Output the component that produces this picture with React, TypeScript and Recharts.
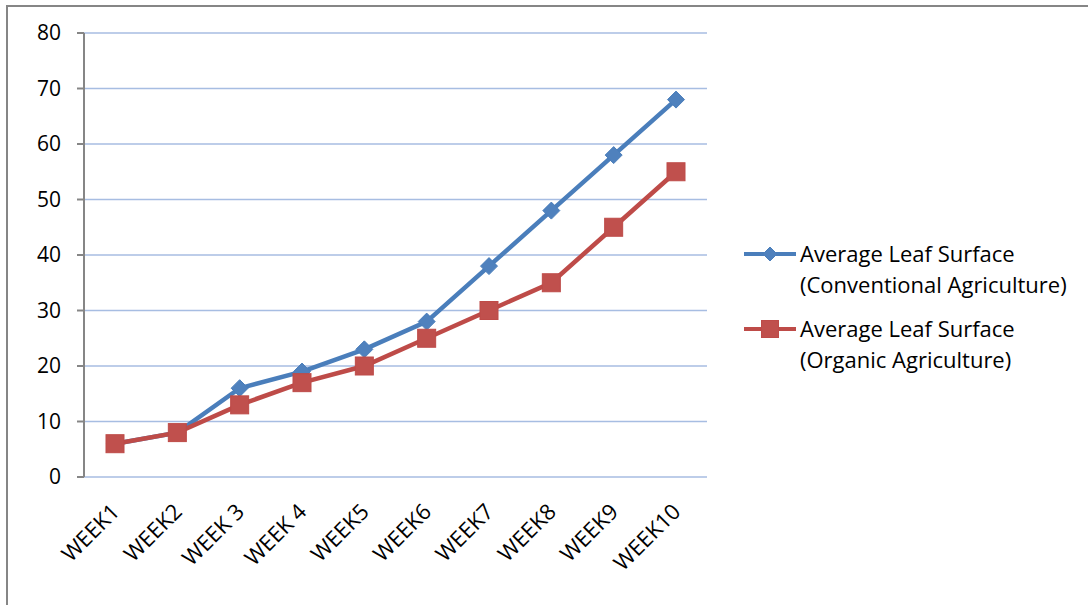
import React from "react";
import { LineChart, Line, XAxis, YAxis, CartesianGrid } from "recharts";

const WEEKS = ["WEEK1", "WEEK2", "WEEK 3", "WEEK 4", "WEEK5", "WEEK6", "WEEK7", "WEEK8", "WEEK9", "WEEK10"];
const CONVENTIONAL = [6, 8, 16, 19, 23, 28, 38, 48, 58, 68];
const ORGANIC = [6, 8, 13, 17, 20, 25, 30, 35, 45, 55];
const Y_TICKS = [0, 10, 20, 30, 40, 50, 60, 70, 80];
const BOUNDARY_TICKS = [0, 1, 2, 3, 4, 5, 6, 7, 8, 9, 10];

const SERIES = [
  { key: "conventional", name: ["Average Leaf Surface", "(Conventional Agriculture)"], color: "#4A7EBB", fill: "#4F81BD", shape: "diamond" },
  { key: "organic", name: ["Average Leaf Surface", "(Organic Agriculture)"], color: "#BE4B48", fill: "#C0504D", shape: "square" },
];

const data = WEEKS.map((week, i) => ({
  week,
  conventional: CONVENTIONAL[i],
  organic: ORGANIC[i],
}));

const FONT = "'Open Sans', 'Noto Sans', sans-serif";
const AXIS_GRAY = "#868686";

function Diamond(props: any) {
  const { cx, cy, index } = props;
  if (cx == null || cy == null) return null;
  const r = 8.5;
  return (
    <path
      key={`d-${index}`}
      d={`M${cx},${cy - r}L${cx + r},${cy}L${cx},${cy + r}L${cx - r},${cy}Z`}
      fill="#4F81BD"
      stroke="#4A7EBB"
      strokeWidth={1}
    />
  );
}

function Square(props: any) {
  const { cx, cy, index } = props;
  if (cx == null || cy == null) return null;
  const s = 9;
  return (
    <rect
      key={`s-${index}`}
      x={cx - s}
      y={cy - s}
      width={s * 2}
      height={s * 2}
      fill="#C0504D"
      stroke="#BE4B48"
      strokeWidth={1}
    />
  );
}

function WeekTick(props: any) {
  const { x, y, payload } = props;
  return (
    <g transform={`translate(${x + 6},${y + 36})`}>
      <text transform="rotate(-45)" textAnchor="end" fontSize={22} fontFamily={FONT} fill="#000">
        {payload.value}
      </text>
    </g>
  );
}

function LegendIcon({ shape, color, fill }: { shape: string; color: string; fill: string }) {
  return (
    <svg width={52} height={20} style={{ display: "block" }}>
      <line x1={0} y1={10} x2={52} y2={10} stroke={color} strokeWidth={4} />
      {shape === "diamond" ? (
        <path d="M26,3L33,10L26,17L19,10Z" fill={fill} stroke={color} />
      ) : (
        <rect x={17.5} y={1.5} width={17} height={17} fill={fill} stroke={color} />
      )}
    </svg>
  );
}

export default function App() {
  return (
    <div style={{ position: "absolute", left: 0, top: 0, width: 1088, height: 605, overflow: "hidden", background: "#fff" }}>
      <div
        style={{
          position: "absolute",
          left: 6,
          top: 5,
          width: 1100,
          height: 620,
          borderTop: `2px solid ${AXIS_GRAY}`,
          borderLeft: `2px solid ${AXIS_GRAY}`,
        }}
      />
      <div style={{ position: "absolute", left: 0, top: 0 }}>
        <LineChart width={1088} height={605} data={data} margin={{ top: 33, right: 381, bottom: 28, left: 0 }}>
          <CartesianGrid vertical={false} stroke="#A7BDE2" strokeWidth={1.5} />
          <XAxis
            xAxisId="bounds"
            type="number"
            domain={[0, 10]}
            allowDataOverflow
            ticks={BOUNDARY_TICKS}
            tick={false}
            tickSize={7}
            height={0}
            stroke={AXIS_GRAY}
            axisLine={{ stroke: AXIS_GRAY, strokeWidth: 2 }}
            tickLine={{ stroke: AXIS_GRAY, strokeWidth: 2 }}
          />
          <XAxis
            dataKey="week"
            interval={0}
            padding={{ left: 31, right: 31 }}
            axisLine={false}
            tickLine={false}
            tickSize={0}
            tickMargin={0}
            height={100}
            tick={<WeekTick />}
          />
          <YAxis
            domain={[0, 80]}
            ticks={Y_TICKS}
            interval={0}
            width={84}
            tickSize={7}
            tickMargin={16}
            axisLine={{ stroke: AXIS_GRAY, strokeWidth: 2 }}
            tickLine={{ stroke: AXIS_GRAY, strokeWidth: 2 }}
            tick={{ fontSize: 21, fontFamily: FONT, fill: "#000" }}
          />
          <Line
            dataKey="conventional"
            stroke="#4A7EBB"
            strokeWidth={4.5}
            dot={<Diamond />}
            activeDot={false}
            isAnimationActive={false}
          />
          <Line
            dataKey="organic"
            stroke="#BE4B48"
            strokeWidth={4.5}
            dot={<Square />}
            activeDot={false}
            isAnimationActive={false}
          />
        </LineChart>
      </div>
      {SERIES.map((s, i) => (
        <div
          key={s.key}
          style={{
            position: "absolute",
            left: 744,
            top: 238 + i * 75,
            display: "flex",
            alignItems: "flex-start",
            fontFamily: FONT,
            fontSize: 22,
            lineHeight: "31px",
            color: "#000",
          }}
        >
          <div style={{ paddingTop: 6 }}>
            <LegendIcon shape={s.shape} color={s.color} fill={s.fill} />
          </div>
          <div style={{ marginLeft: 4 }}>
            {s.name.map((line) => (
              <div key={line}>{line}</div>
            ))}
          </div>
        </div>
      ))}
    </div>
  );
}
